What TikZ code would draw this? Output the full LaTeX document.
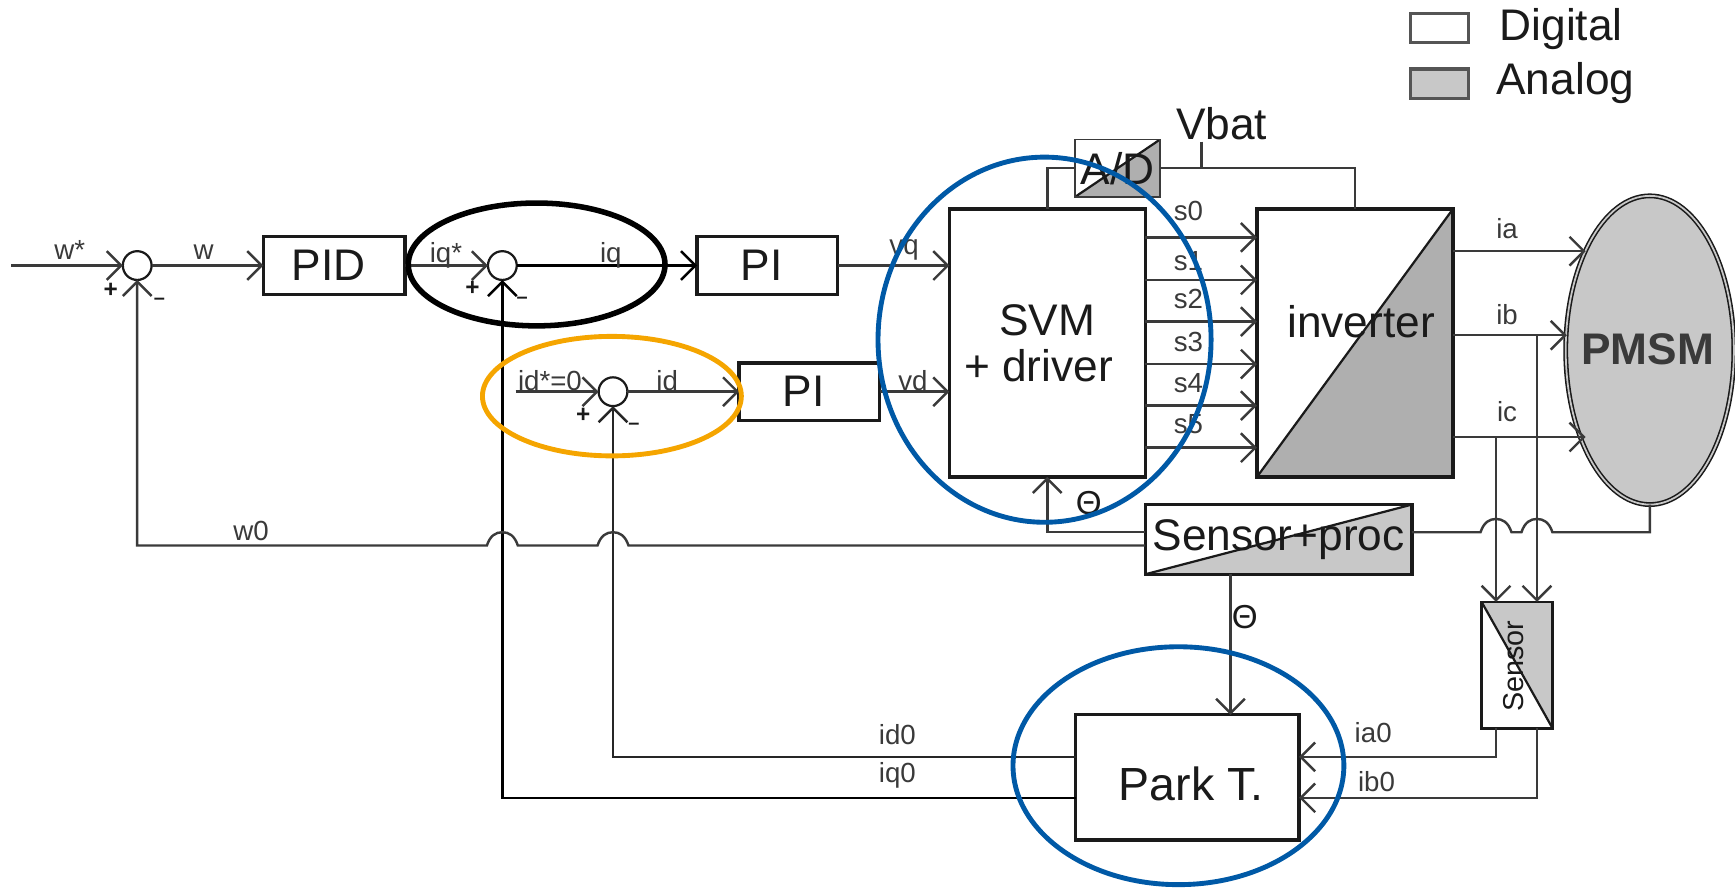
\documentclass[tikz,border=0pt]{standalone}
\usepackage{fontspec}
\setmainfont{Liberation Sans}
\usetikzlibrary{arrows.meta,shapes.geometric}
\definecolor{sigline}{HTML}{3A3A3A}
\definecolor{boxline}{HTML}{1A1A1A}
\definecolor{legendline}{HTML}{555555}
\definecolor{analoggray}{HTML}{C8C8C8}
\definecolor{darkgray}{HTML}{AFAFAF}
\definecolor{ringblue}{HTML}{0059A6}
\definecolor{ringorange}{HTML}{F5A500}
\tikzset{
  sz/.style 2 args={minimum width=#1*0.5pt,minimum height=#2*0.5pt},
  block/.style={draw=boxline,line width=1.5pt,fill=white,inner sep=0pt,outer sep=0pt,font=\fontsize{20}{22}\selectfont,text=boxline},
  splitup/.style={path picture={
    \fill[#1] (path picture bounding box.south west) -- (path picture bounding box.north east) -- (path picture bounding box.south east) -- cycle;
    \draw[boxline,line width=1pt] (path picture bounding box.south west) -- (path picture bounding box.north east);}},
  splitdown/.style={path picture={
    \fill[#1] (path picture bounding box.north west) -- (path picture bounding box.north east) -- (path picture bounding box.south east) -- cycle;
    \draw[boxline,line width=1pt] (path picture bounding box.north west) -- (path picture bounding box.south east);}},
  sumcirc/.style={circle,draw=boxline,line width=1pt,fill=white,minimum size=13pt,inner sep=0pt,outer sep=0pt},
  sig/.style={draw=sigline,line width=1.1pt},
  arr/.style={sig,-{Straight Barb[length=6.5pt,width=13pt,line width=1.1pt]}},
  lab/.style={font=\fontsize{12.5}{14}\selectfont,text=sigline,inner sep=0pt},
  big/.style={font=\fontsize{20}{22}\selectfont,text=boxline,inner sep=0pt},
  sgn/.style={font=\fontsize{11}{12}\bfseries\selectfont,text=boxline,inner sep=0pt},
  sgnm/.style={font=\fontsize{9}{10}\bfseries\selectfont,text=boxline,inner sep=0pt},
  legendbox/.style={draw=legendline,line width=1.5pt,inner sep=0pt,outer sep=0pt},
  ring/.style={ellipse,draw=#1,line width=2.2pt,inner sep=0pt,outer sep=0pt}
}
\begin{document}
\begin{tikzpicture}[x=0.5pt,y=-0.5pt]
\useasboundingbox (0,0) rectangle (1568,802.5);
% blocks
\node[sumcirc] (s1) at (124,240) {};
\node[sumcirc] (s2) at (454,240) {};
\node[sumcirc] (s3) at (554,354) {};
\node[block,sz={128}{52}] (pid) at (302,240) {PID\kern5pt};
\node[block,sz={127}{52}] (pi1) at (693.5,240) {PI\kern5pt};
\node[block,sz={127}{52}] (pi2) at (731.5,354) {PI\kern5pt};
\node[block,sz={177}{242},align=center] (svm) at (946.5,310) {SVM\\[-1pt]+ driver\kern8pt};
\node[block,sz={77}{52},line width=0.8pt,draw=sigline,splitup=darkgray] (ad) at (1010,152) {A/D};
\node[block,sz={177}{242},splitup=darkgray] (inv) at (1224.5,310) {};
\node[big] (invt) at (1230,291) {inverter};
\node[ellipse,draw=boxline,double=analoggray,double distance=0.8pt,line width=0.7pt,fill=analoggray,inner sep=0pt,outer sep=0pt,sz={152}{279}] (pmsm) at (1491,316.5) {};
\node[big,font=\fontsize{20}{22}\bfseries\selectfont,text=sigline] (pmsmt) at (1489,316) {PMSM};
\node[block,sz={241}{63},splitup=analoggray] (sp) at (1155.5,487.5) {Sensor+proc};
\node[block,sz={64}{114},line width=1.3pt,splitdown=analoggray] (sens) at (1371,601) {};
\node[big,font=\fontsize{13}{14}\selectfont,rotate=90] (senst) at (1368,602) {Sensor};
\node[block,sz={202}{113}] (park) at (1073,702.5) {};
\node[big,font=\fontsize{21}{22}\selectfont] (parkt) at (1076.5,708) {Park T.};
% free ends and tap points
\coordinate (in) at (10,240);
\coordinate (idin) at (466,354);
\coordinate (vbat) at (1086,128);
\coordinate (vbatj) at (1086,152);
\foreach \n/\y in {0/214.5,1/253,2/290.7,3/329,4/366.6,5/404.6}{
  \coordinate (so\n) at (svm.east |- 0,\y);
  \coordinate (si\n) at (inv.west |- 0,\y);
}
\coordinate (iaL) at (inv.east |- 0,227);
\coordinate (ibL) at (inv.east |- 0,303);
\coordinate (icL) at (inv.east |- 0,395);
\coordinate (iaR) at (1433,227);
\coordinate (ibR) at (1416,303);
\coordinate (icR) at (1433,395);
\coordinate (ta) at (1352,395);
\coordinate (tb) at (1389,303);
\coordinate (sa) at (1352,544);
\coordinate (sb) at (1389,544);
\coordinate (sa2) at (1352,658);
\coordinate (sb2) at (1389,658);
% forward path
\draw[arr] (in) -- (s1.west);
\draw[arr] (s1.east) -- (pid.west);
\draw[arr] (pid.east) -- (s2.west);
\draw[arr,draw=black] (s2.east) -- (pi1.west);
\draw[arr] (pi1.east) -- (svm.west |- pi1.east);
\draw[arr] (idin) -- (s3.west);
\draw[arr] (s3.east) -- (pi2.west);
\draw[arr] (pi2.east) -- (svm.west |- pi2.east);
\foreach \n in {0,...,5}{\draw[arr] (so\n) -- (si\n);}
\draw[arr] (iaL) -- (iaR);
\draw[arr] (ibL) -- (ibR);
\draw[arr] (icL) -- (icR);
% supply
\draw[sig] (svm.north -| 946.5,0) |- (ad.west);
\draw[sig] (ad.east) -| (inv.north);
\draw[sig] (vbat) -- (vbatj);
% current sensing
\draw[arr] (ta) -- (sa);
\draw[arr] (tb) -- (sb);
\draw[arr] (sa2) |- (park.east |- 0,684);
\draw[arr] (sb2) |- (park.east |- 0,721);
% park outputs
\draw[arr,draw=black!85] (park.west |- 0,684) -| (s3.south);
\draw[arr,draw=black] (park.west |- 0,721) -| (s2.south);
% theta
\draw[arr] (sp.west |- 0,481) -| (svm.south -| 946.5,0);
\draw[arr] (sp.south -| 1112,0) -- (park.north -| 1112,0);
% speed feedback with hops
\draw[arr] (sp.west |- 0,493) -- (568,493)
  .. controls +(-3,-9) and +(6,0) .. ++(-14,-12)
  .. controls +(-6,0) and +(3,-9) .. ++(-14,12)
  -- (468,493)
  .. controls +(-3,-9) and +(6,0) .. ++(-14,-12)
  .. controls +(-6,0) and +(3,-9) .. ++(-14,12)
  -| (s1.south);
\draw[sig] (pmsm.south) |- (1403,481)
  .. controls +(-3,-9) and +(6,0) .. ++(-14,-12)
  .. controls +(-6,0) and +(3,-9) .. ++(-14,12)
  -- (1366,481)
  .. controls +(-3,-9) and +(6,0) .. ++(-14,-12)
  .. controls +(-6,0) and +(3,-9) .. ++(-14,12)
  -- (sp.east |- 0,481);
% labels
\node[lab] (l1) at (63,226) {w*};
\node[lab] (l2) at (184,228) {w};
\node[lab] (l3) at (403,231) {iq*};
\node[lab] (l4) at (552,231) {iq};
\node[lab] (l5) at (497,344) {id*=0};
\node[lab] (l6) at (603,344) {id};
\node[lab] (l7) at (817,226) {vq};
\node[lab] (l8) at (825,344) {vd};
\node[lab] (l9) at (227,480) {w0};
\node[lab] (s0l) at (1074,191) {s0};
\node[lab] (s1l) at (1074,236) {s1};
\node[lab] (s2l) at (1074,270) {s2};
\node[lab] (s3l) at (1074,309) {s3};
\node[lab] (s4l) at (1074,346) {s4};
\node[lab] (s5l) at (1074,383) {s5};
\node[lab] (ial) at (1362,207) {ia};
\node[lab] (ibl) at (1362,284) {ib};
\node[lab] (icl) at (1362,372) {ic};
\node[lab] (ia0) at (1241,662) {ia0};
\node[lab] (ib0) at (1244,706) {ib0};
\node[lab] (id0) at (811,664) {id0};
\node[lab] (iq0) at (811,701) {iq0};
\node[big] (vb) at (1104,112) {Vbat};
\node[big,font=\fontsize{15}{16}\selectfont] (th1) at (984,455) {Θ};
\node[big,font=\fontsize{15}{16}\selectfont] (th2) at (1125,558) {Θ};
\node[sgn] (p1) at (100,262) {+};
\node[sgnm] (m1) at (144,272) {–};
\node[sgn] (p2) at (427,261) {+};
\node[sgnm] (m2) at (472,271) {–};
\node[sgn] (p3) at (527,375) {+};
\node[sgnm] (m3) at (573,385) {–};
% legend
\node[legendbox,fill=white,sz={52}{26}] (dgt) at (1301,25.5) {};
\node[legendbox,fill=analoggray,sz={52}{27}] (ang) at (1301,75.8) {};
\node[big,anchor=west] (dtxt) at (1355,26) {Digital};
\node[big,anchor=west] (atxt) at (1352,75) {Analog};
% highlight rings
\node[ring=black,line width=2.5pt,sz={232}{111}] (rq) at (485,239) {};
\node[ring=ringorange,sz={234}{108}] (rd) at (553,358) {};
\node[ring=ringblue,sz={301}{330}] (rs) at (944,307) {};
\node[ring=ringblue,sz={299}{215}] (rp) at (1065,692) {};
\end{tikzpicture}
\end{document}
